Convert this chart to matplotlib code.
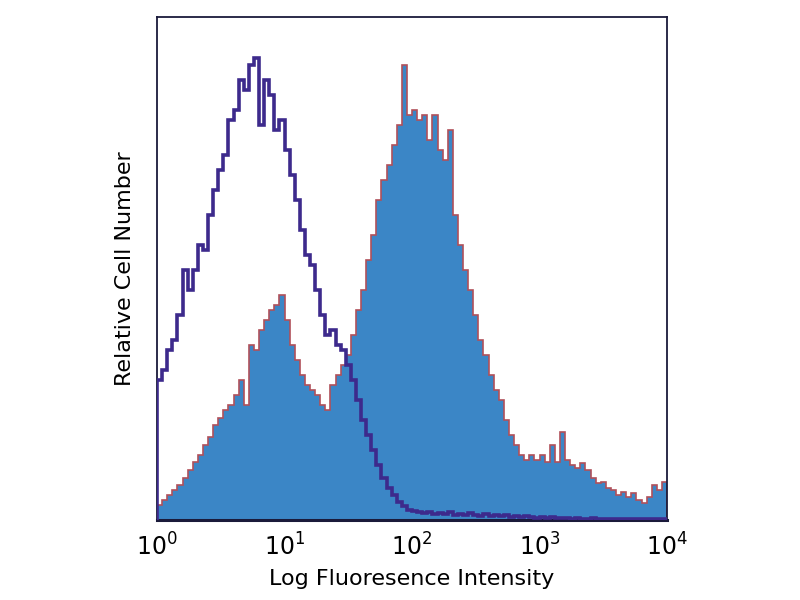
import numpy as np
import matplotlib
matplotlib.use('Agg')
import matplotlib.pyplot as plt

# histogram bins: 100 channels over 4 decades
bin_edges = 10 ** np.linspace(0, 4, 101)

# stained sample (filled histogram), relative counts per channel
stained = [15, 20, 25, 30, 35, 42, 50, 58, 65, 75,
           83, 95, 102, 110, 115, 125, 140, 115, 175, 170,
           190, 200, 210, 215, 225, 200, 175, 160, 145, 135,
           130, 125, 115, 110, 135, 145, 155, 165, 185, 210,
           230, 260, 285, 320, 340, 355, 375, 395, 455, 405,
           410, 400, 405, 380, 405, 370, 360, 390, 305, 275,
           250, 230, 205, 180, 165, 145, 130, 120, 100, 85,
           75, 65, 60, 65, 60, 65, 58, 75, 58, 88,
           60, 55, 52, 57, 50, 42, 37, 38, 32, 30,
           25, 28, 23, 27, 20, 17, 23, 35, 30, 38]

# isotype control (open histogram)
control = [140, 150, 170, 180, 205, 250, 230, 250, 275, 270,
           305, 330, 350, 365, 400, 410, 440, 430, 455, 462,
           395, 440, 425, 390, 400, 370, 345, 320, 290, 265,
           255, 230, 205, 185, 190, 175, 170, 155, 140, 120,
           100, 85, 70, 55, 42, 32, 25, 18, 14, 10,
           9, 8, 7, 8, 6, 7, 6, 8, 5, 6,
           5, 7, 5, 4, 6, 4, 5, 4, 5, 3,
           4, 3, 4, 3, 2, 3, 2, 3, 2, 2,
           2, 1, 2, 1, 1, 2, 1, 1, 1, 1,
           1, 1, 1, 1, 1, 1, 1, 1, 1, 1]

tick_vals = [1, 10, 100, 1000, 10000]
tick_labels = ['$10^0$', '$10^1$', '$10^2$', '$10^3$', '$10^4$']

fig = plt.figure(figsize=(8, 6), dpi=100)
ax = fig.add_axes([157 / 800, 80 / 600, 510 / 800, 503 / 600])

ax.stairs(stained, bin_edges, fill=True, color='#3b86c6', zorder=1)
ax.stairs(stained, bin_edges, color='#b0505a', linewidth=1.2, zorder=2)
ax.stairs(control, bin_edges, color='#3d2a8c', linewidth=2.6, zorder=3)

ax.set_xscale('log')
ax.set_xlim(1, 10000)
ax.set_ylim(0, 503)
ax.set_xticks(tick_vals)
ax.set_xticklabels(tick_labels, fontsize=17)
ax.minorticks_off()
ax.tick_params(axis='x', length=0, pad=10)
ax.set_yticks([])

for s in ax.spines.values():
    s.set_color('#1a1a3a')
    s.set_linewidth(1.3)
ax.spines['bottom'].set_linewidth(2.2)

ax.set_xlabel('Log Fluoresence Intensity', fontsize=16, labelpad=6)
ax.set_ylabel('Relative Cell Number', fontsize=16, labelpad=16)

fig.savefig('out.png', dpi=100)
